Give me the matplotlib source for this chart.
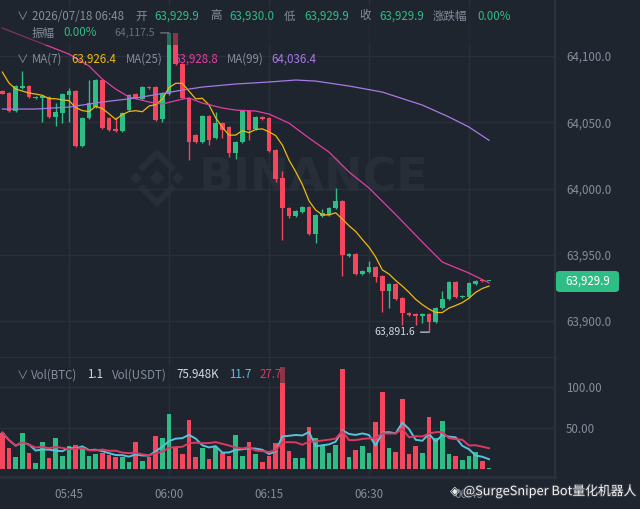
import numpy as np
import pandas as pd
import matplotlib
matplotlib.use('Agg')
import matplotlib.pyplot as plt
from matplotlib.patches import FancyBboxPatch, Rectangle, Polygon
import matplotlib.patheffects as pe

plt.rcParams['font.family'] = ['Noto Sans CJK SC', 'DejaVu Sans']

# minutes from 05:45, one candle per minute (05:35 .. 06:48)
minutes = np.arange(-10, 64)

opens = [64073.6, 64072.1, 64058.5, 64075.8, 64077.4, 64068.3, 64068.3, 64069.1, 64054.0, 64057.0,
         64070.6, 64073.6, 64032.1, 64053.2, 64061.5, 64081.9, 64053.2, 64044.9, 64043.4, 64059.2,
         64071.3, 64067.5, 64076.6, 64076.6, 64052.5, 64071.3, 64117.5, 64094.0, 64068.3, 64040.4,
         64035.1, 64054.7, 64038.1, 64049.4, 64046.4, 64026.8, 64035.1, 64058.5, 64044.9, 64054.0,
         64053.2, 64029.1, 64007.9, 63985.3, 63979.2, 63982.3, 63986.0, 63965.7, 63979.2, 63980.0,
         63985.3, 63990.6, 63949.1, 63950.6, 63935.5, 63937.0, 63940.8, 63934.0, 63922.6, 63927.9,
         63917.4, 63906.0, 63905.3, 63903.8, 63905.3, 63899.2, 63909.8, 63916.6, 63929.4, 63918.1,
         63918.1, 63927.9, 63930.6, 63929.9]
highs = [64074.5, 64072.6, 64077.9, 64088.7, 64077.9, 64069.6, 64070.3, 64069.6, 64064.5, 64071.8,
         64075.8, 64074.1, 64053.7, 64081.9, 64082.4, 64082.4, 64053.7, 64054.0, 64057.5, 64071.1,
         64072.1, 64077.1, 64077.1, 64077.1, 64072.6, 64117.5, 64117.5, 64094.5, 64068.8, 64040.9,
         64055.2, 64055.2, 64057.7, 64049.9, 64046.9, 64035.6, 64059.0, 64059.0, 64054.5, 64054.5,
         64053.7, 64029.6, 64013.2, 63985.8, 63983.5, 63986.5, 63986.5, 63980.5, 63984.5, 63985.8,
         64000.4, 63991.1, 63951.1, 63951.1, 63938.2, 63945.3, 63941.3, 63934.5, 63928.4, 63928.4,
         63917.9, 63906.5, 63905.8, 63905.8, 63905.8, 63910.3, 63922.6, 63929.9, 63929.9, 63919.4,
         63929.2, 63930.7, 63931.0, 63930.0]
lows = [64071.0, 64058.0, 64058.0, 64075.3, 64068.6, 64067.8, 64050.2, 64053.5, 64047.2, 64049.4,
        64050.2, 64031.6, 64031.6, 64052.7, 64061.0, 64045.2, 64043.7, 64042.9, 64042.9, 64058.7,
        64067.5, 64067.0, 64075.3, 64051.0, 64050.2, 64070.8, 64093.5, 64067.8, 64021.5, 64034.6,
        64034.6, 64033.0, 64037.6, 64038.1, 64023.8, 64022.0, 64034.6, 64036.6, 64044.4, 64052.0,
        64027.8, 64004.9, 63961.1, 63977.7, 63978.7, 63981.8, 63965.2, 63958.9, 63978.7, 63979.5,
        63984.8, 63934.0, 63948.6, 63935.0, 63935.0, 63936.5, 63929.4, 63906.8, 63909.8, 63916.1,
        63897.0, 63904.0, 63897.0, 63898.5, 63891.6, 63898.7, 63909.3, 63916.1, 63917.6, 63917.6,
        63917.6, 63927.4, 63929.5, 63929.9]
closes = [64071.3, 64058.5, 64077.4, 64077.4, 64069.1, 64069.1, 64069.8, 64054.0, 64057.7, 64071.3,
          64073.6, 64032.1, 64053.2, 64064.5, 64081.9, 64045.7, 64044.2, 64043.4, 64057.0, 64070.6,
          64068.3, 64076.6, 64075.8, 64051.7, 64072.1, 64117.5, 64094.0, 64068.3, 64035.1, 64035.1,
          64054.7, 64037.0, 64049.4, 64044.2, 64026.8, 64035.1, 64058.5, 64044.2, 64054.0, 64052.5,
          64028.3, 64007.2, 63985.3, 63979.2, 63983.0, 63986.0, 63965.7, 63980.0, 63981.5, 63985.3,
          63990.6, 63949.8, 63950.6, 63935.5, 63937.7, 63940.8, 63933.2, 63922.6, 63927.9, 63916.6,
          63906.0, 63904.5, 63903.8, 63905.3, 63899.2, 63909.8, 63916.6, 63929.4, 63918.1, 63918.9,
          63928.7, 63930.2, 63929.9, 63929.9]
volumes = [44.3, 26.0, 15.0, 44.3, 19.1, 7.7, 32.9, 13.8, 38.2, 15.9,
           28.0, 29.3, 26.4, 15.9, 17.9, 19.1, 17.1, 15.0, 15.0, 8.9,
           32.9, 10.2, 15.0, 40.2, 37.4, 67.1, 25.2, 18.3, 59.8, 15.0,
           26.0, 12.2, 26.4, 19.9, 16.3, 41.5, 15.9, 32.5, 18.3, 8.9,
           15.9, 31.3, 124.0, 22.4, 13.8, 13.0, 51.6, 37.4, 28.9, 19.1,
           29.3, 122.0, 14.2, 23.2, 28.0, 19.9, 56.9, 93.9, 26.0, 20.3,
           85.4, 18.3, 28.0, 19.9, 63.0, 37.4, 58.9, 17.9, 15.9, 11.0,
           16.3, 21.1, 10.2, 1.1]

# MA(7) for the first six candles (needs earlier candles)
ma7_lead = [64087.9, 64079.6, 64075.1, 64073.6, 64072.1, 64071.3]

# MA(25) and MA(99) at a few candles
ma25_min = [-10, -5, 0, 3, 5, 7, 9, 12, 14, 17, 18, 20, 23, 25, 28, 30, 33, 36, 39, 42, 45, 49, 53, 56, 60, 63]
ma25_val = [64121.1, 64111.3, 64101.5, 64092.5, 64082.6, 64075.1, 64069.1, 64065.3, 64063.8, 64067.5,
            64068.3, 64064.5, 64060.8, 64059.2, 64058.5, 64056.2, 64049.4, 64038.1, 64027.5, 64012.5,
            64000.4, 63980.4, 63959.6, 63944.5, 63936.2, 63928.8]
ma99_min = [-10, -5, 0, 5, 10, 17, 20, 25, 30, 34, 37, 42, 47, 53, 57, 60, 63]
ma99_val = [64060.0, 64060.0, 64061.5, 64065.3, 64068.3, 64074.3, 64076.6, 64078.9, 64080.4, 64081.9,
            64081.1, 64077.4, 64072.8, 64063.0, 64054.0, 64046.4, 64036.4]

# volume legend values as shown by the chart (MA5 / MA10)
vol_ma_labels = ['11.7', '27.7']
vol_usdt_label = '75.948K'

price_ticks = [63900, 63950, 64000, 64050, 64100]
vol_ticks = [50, 100]
time_ticks = [0, 15, 30, 45, 60]
time_labels = ['05:45', '06:00', '06:15', '06:30', '06:45']

BG = '#1f252f'
GRID = '#2a303b'
SEP = '#2c323d'
WM = '#282e38'
GRAY = '#848e9c'
LIGHT = '#d5d9de'
GREEN = '#2ebd85'
RED = '#f6465d'

o = np.array(opens)
h = np.array(highs)
l = np.array(lows)
c = np.array(closes)
v = np.array(volumes)
up = c >= o
colors = np.where(up, GREEN, RED)

ma7 = pd.Series(c).rolling(7).mean().to_numpy()
ma7[:6] = ma7_lead
vol_ma5 = pd.Series(v).rolling(5, min_periods=1).mean()
vol_ma10 = pd.Series(v).rolling(10, min_periods=1).mean()

W, H = 640, 509
fig = plt.figure(figsize=(W / 100, H / 100), dpi=100, facecolor=BG)


def px(x, y):
    return x / W, 1 - y / H


ax = fig.add_axes([0, (H - 358) / H, 555 / W, 358 / H], facecolor=BG)
axv = fig.add_axes([0, (H - 477) / H, 555 / W, 119 / H], facecolor=BG, sharex=ax)

xlim = (-10.35, 72.9)

# watermark: logo + word
ax.text(*px(314, 179), 'BINANCE', transform=fig.transFigure, fontsize=33, fontweight='bold',
        color=WM, ha='center', va='center', family='DejaVu Sans', zorder=0.5)
for cx, cy, r in [(157, 178, 7.5), (136, 178, 6), (178, 178, 6)]:
    ax.add_patch(Polygon([px(cx - r, cy), px(cx, cy - r), px(cx + r, cy), px(cx, cy + r)],
                         closed=True, transform=fig.transFigure, facecolor=WM, edgecolor='none', zorder=0.5))
for ys in [(170, 153, 170), (186, 203, 186)]:
    pts = [px(140, ys[0]), px(157, ys[1]), px(174, ys[2])]
    ax.plot([p[0] for p in pts], [p[1] for p in pts], color=WM, linewidth=4.5,
            solid_joinstyle='miter', solid_capstyle='butt', transform=fig.transFigure, zorder=0.5)

# candles
ax.vlines(minutes, l, h, color=colors, linewidth=1, zorder=3)
body_lo = np.minimum(o, c)
body_h = np.maximum(np.abs(c - o), 0.8)
ax.bar(minutes, body_h, bottom=body_lo, width=0.68, color=colors, linewidth=0, zorder=3)

ax.plot(minutes, ma7, color='#f0b90b', linewidth=0.9, zorder=4)
ax.plot(ma25_min, ma25_val, color='#e23ea3', linewidth=0.9, zorder=4)
ax.plot(ma99_min, ma99_val, color='#a779e6', linewidth=0.9, zorder=4)

ax.set_xlim(*xlim)
ax.set_ylim(63872.1, 64142.3)
ax.set_yticks(price_ticks)
ax.set_yticklabels([f'{p:,.1f}' for p in price_ticks])
ax.set_xticks(time_ticks)
ax.grid(True, color=GRID, linewidth=1, zorder=0)
ax.set_axisbelow(True)
ax.yaxis.tick_right()
ax.tick_params(axis='y', length=0, pad=8, labelcolor=GRAY, labelsize=8.3)
ax.tick_params(axis='x', length=0, labelbottom=False)
for side in ['top', 'left']:
    ax.spines[side].set_visible(False)
ax.spines['bottom'].set_color(SEP)
ax.spines['bottom'].set_linewidth(2)
ax.spines['right'].set_color(SEP)
ax.spines['right'].set_linewidth(1.5)

# high / low marks
i_hi = int(np.argmax(h))
i_lo = int(np.argmin(l))
ax.annotate(f'{h[i_hi]:,.1f}', xy=(minutes[i_hi], h[i_hi]), xytext=(-14, 0), textcoords='offset pixels',
            ha='right', va='center', fontsize=7.5, color='#b7bdc6',
            arrowprops=dict(arrowstyle='-', color='#b7bdc6', lw=1, shrinkA=2, shrinkB=0), zorder=6)
ax.annotate(f'{l[i_lo]:,.1f}', xy=(minutes[i_lo], l[i_lo]), xytext=(-14, 0), textcoords='offset pixels',
            ha='right', va='center', fontsize=7.5, color='#d5d9de',
            arrowprops=dict(arrowstyle='-', color='#b7bdc6', lw=1, shrinkA=2, shrinkB=0), zorder=6)

# volume panel
axv.bar(minutes, v, width=0.68, color=colors, linewidth=0, zorder=3)
axv.plot(minutes, vol_ma5, color='#56c2dc', linewidth=1.4, zorder=4)
axv.plot(minutes, vol_ma10, color='#d93a62', linewidth=1.4, zorder=4)
axv.set_xlim(*xlim)
axv.set_ylim(-9.8, 135.4)
axv.set_yticks(vol_ticks)
axv.set_yticklabels([f'{t:.2f}' for t in vol_ticks])
axv.set_xticks(time_ticks)
axv.set_xticklabels(time_labels)
axv.grid(True, color=GRID, linewidth=1, zorder=0)
axv.set_axisbelow(True)
axv.yaxis.tick_right()
axv.tick_params(axis='y', length=0, pad=8, labelcolor=GRAY, labelsize=8.3)
axv.tick_params(axis='x', length=0, pad=8, labelcolor=GRAY, labelsize=8.3)
for side in ['top', 'left']:
    axv.spines[side].set_visible(False)
axv.spines['bottom'].set_color(SEP)
axv.spines['bottom'].set_linewidth(2)
axv.spines['right'].set_color(SEP)
axv.spines['right'].set_linewidth(1.5)

# legend backdrops
fig.patches.append(Rectangle(px(0, 45), 520 / W, 40 / H, transform=fig.transFigure,
                             facecolor=BG, alpha=0.5, edgecolor='none', zorder=5))
fig.patches.append(Rectangle(px(0, 383), 290 / W, 17 / H, transform=fig.transFigure,
                             facecolor=BG, alpha=0.5, edgecolor='none', zorder=5))


def put(x, y, s, color, size=8.3):
    fig.text(*px(x, y), s, color=color, fontsize=size, ha='left', va='center', zorder=10)


chev = '∨'
put(17, 16, chev, GRAY)
put(32, 16, '2026/07/18 06:48', GRAY)
row1 = [(135, '开', 154, '63,929.9'), (210, '高', 229, '63,930.0'),
        (284, '低', 304, '63,929.9'), (359, '收', 379, '63,929.9'), (433, '涨跌幅', 477, '0.00%')]
for lx, lab, vx, val in row1:
    put(lx, 16, lab, GRAY)
    put(vx, 16, val, GREEN)
put(32, 33, '振幅', GRAY)
put(63, 33, '0.00%', GREEN)

put(17, 59, chev, GRAY)
put(32, 59, 'MA(7)', GRAY)
put(71, 59, f'{ma7[-1]:,.1f}', '#f0b90b')
put(126, 59, 'MA(25)', GRAY)
put(173, 59, f'{ma25_val[-1]:,.1f}', '#e23ea3')
put(227, 59, 'MA(99)', GRAY)
put(271, 59, f'{ma99_val[-1]:,.1f}', '#a779e6')

put(17, 375, chev, GRAY)
put(31, 375, 'Vol(BTC)', GRAY)
put(87, 375, f'{v[-1]:.1f}', LIGHT)
put(112, 375, 'Vol(USDT)', GRAY)
put(176, 375, vol_usdt_label, LIGHT)
put(229, 375, vol_ma_labels[0], '#56c2dc')
put(260, 375, vol_ma_labels[1], '#d93a62')

# last price tag
fx, fy = px(556, 292)
fig.patches.append(FancyBboxPatch((fx, fy), 63 / W, 21 / H, transform=fig.transFigure,
                                  boxstyle='round,pad=0,rounding_size=0.006',
                                  facecolor=GREEN, edgecolor='none', zorder=9))
fig.text(*px(588, 281.5), f'{c[-1]:,.1f}', color='white', fontsize=8.3, ha='center', va='center', zorder=10)

# bottom-right watermark
fig.text(*px(450, 491), '◈', color='#e8e8e8', fontsize=9, ha='left', va='center', zorder=10)
fig.text(*px(463, 491), '@SurgeSniper Bot量化机器人', color='#f2f2f2', fontsize=9.2, ha='left',
         va='center', zorder=10, path_effects=[pe.withStroke(linewidth=1.5, foreground='#333842')])

fig.savefig('out.png', dpi=100, facecolor=BG)
